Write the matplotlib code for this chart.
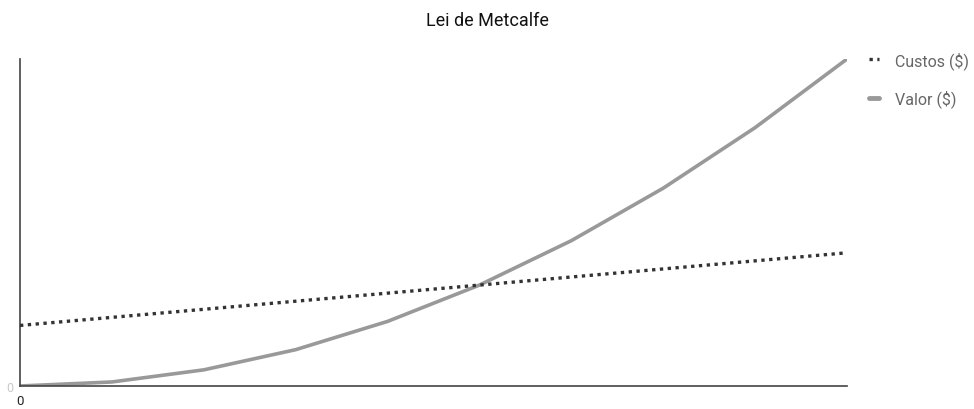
import matplotlib
matplotlib.use("Agg")
import matplotlib.pyplot as plt

plt.rcParams['font.family'] = ['Roboto', 'DejaVu Sans']

nodes = list(range(10))
custos = [15, 17, 19, 21, 23, 25, 27, 29, 31, 33]
valor = [0, 1, 4, 9, 16, 25, 36, 49, 64, 81]
x_tick_labels = ["0"] + [""] * 9

fig = plt.figure(figsize=(9.74, 4.10), dpi=100)
ax = fig.add_axes([20 / 974, 1 - 387 / 410, 827 / 974, 327 / 410])

ax.plot(nodes, valor, color="#999999", lw=2.6, solid_capstyle="round", label="Valor ($)", zorder=2)
ax.plot(nodes, custos, color="#333333", lw=2.4, linestyle=(0, (1, 1.35)), label="Custos ($)", zorder=3)

ax.set_xlim(0, 9)
ax.set_ylim(0, 81)
for s in ("top", "right"):
    ax.spines[s].set_visible(False)
for s in ("left", "bottom"):
    ax.spines[s].set_color("#444444")
    ax.spines[s].set_linewidth(1.2)

ax.set_yticks([0])
ax.set_yticklabels(["0"], color="#c8c8c8", fontsize=9)
ax.set_xticks(nodes)
ax.set_xticklabels(x_tick_labels, color="#222222", fontsize=9.5)
ax.tick_params(axis="x", length=0, pad=6)
ax.tick_params(axis="y", length=0, pad=5)

fig.text(487 / 974, 1 - 21 / 410, "Lei de Metcalfe", ha="center", va="center",
         fontsize=13, color="#111111")

handles, labels = ax.get_legend_handles_labels()
leg = fig.legend(handles[::-1], labels[::-1], loc="upper left",
                 bbox_to_anchor=(869 / 974, 1 - 52 / 410), frameon=False,
                 fontsize=11.5, handlelength=0.6, handletextpad=1.0,
                 labelspacing=1.3, borderaxespad=0, borderpad=0)
for t in leg.get_texts():
    t.set_color("#666666")
leg.get_lines()[1].set_linewidth(3.5)

fig.savefig("out.png", dpi=100)
